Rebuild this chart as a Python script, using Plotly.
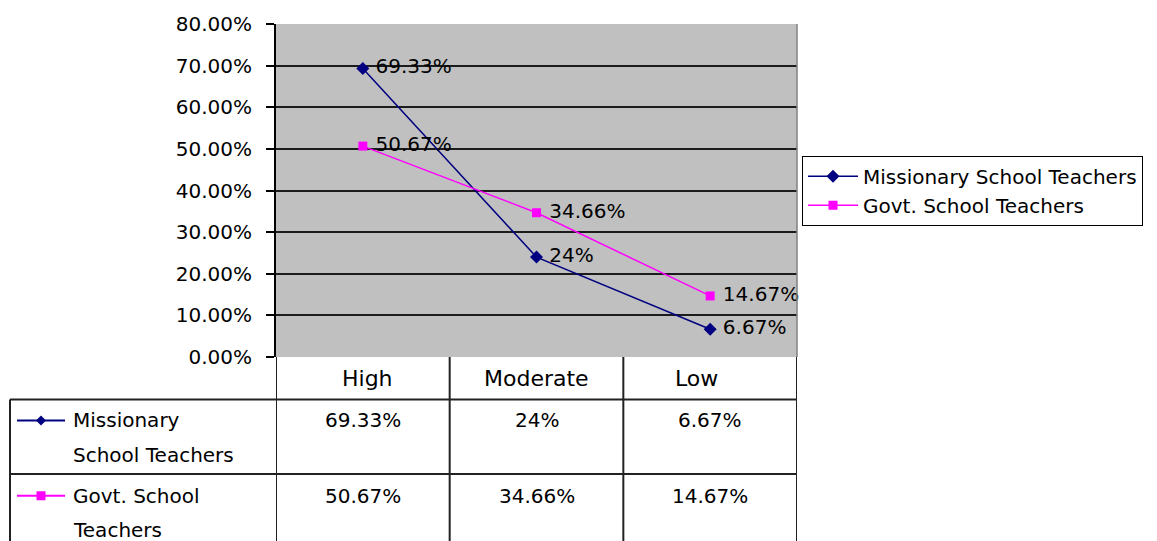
import plotly.graph_objects as go

# ---------------- data ----------------
categories = ["High", "Moderate", "Low"]
series_names = ["Missionary School Teachers", "Govt. School Teachers"]
missionary = [0.6933, 0.24, 0.0667]
govt = [0.5067, 0.3466, 0.1467]
missionary_labels = ["69.33%", "24%", "6.67%"]
govt_labels = ["50.67%", "34.66%", "14.67%"]
row_label_lines = [["Missionary", "School Teachers"], ["Govt. School", "Teachers"]]
y_ticks = [0.0, 0.1, 0.2, 0.3, 0.4, 0.5, 0.6, 0.7, 0.8]

# ---------------- styling / layout helpers ----------------
W, H = 1157, 541
L, R, T, B = 276, 797, 21, 357
FONT = "DejaVu Sans"
NAVY = "#000080"
MAG = "#FF00FF"
GRID = "#1c1c1c"


def px(x):
    return (x - L) / (R - L)


def py(y):
    return (B - y) / (B - T)


fig = go.Figure()

fig.add_trace(go.Scatter(
    x=categories, y=missionary, name=series_names[0], mode="lines+markers",
    line=dict(color=NAVY, width=1.5),
    marker=dict(symbol="diamond", size=10, color=NAVY),
))
fig.add_trace(go.Scatter(
    x=categories, y=govt, name=series_names[1], mode="lines+markers",
    line=dict(color=MAG, width=1.5),
    marker=dict(symbol="square", size=9, color=MAG),
))
for vals, labs in ((missionary, missionary_labels), (govt, govt_labels)):
    fig.add_trace(go.Scatter(
        x=categories, y=vals, mode="text", text=labs,
        texttemplate="  %{text}", textposition="middle right",
        textfont=dict(family=FONT, size=20, color="black"),
        showlegend=False, hoverinfo="skip", cliponaxis=False,
    ))

shapes = []
annotations = []

# right border of plot area
shapes.append(dict(type="line", xref="paper", yref="paper", x0=1, x1=1, y0=0, y1=1,
                   line=dict(color="#808080", width=1.5)))

# ---------------- data table ----------------
tcol = "#222222"
col_edges = [-0.5, 0.5, 1.5, 2.5]
for ce in col_edges:
    shapes.append(dict(type="line", xref="x", yref="paper", x0=ce, x1=ce,
                       y0=py(357), y1=py(545), line=dict(color=tcol, width=2)))
for yy in (400, 475):
    shapes.append(dict(type="line", xref="paper", yref="paper", x0=px(10), x1=1,
                       y0=py(yy), y1=py(yy), line=dict(color=tcol, width=2)))
shapes.append(dict(type="line", xref="paper", yref="paper", x0=px(10), x1=px(10),
                   y0=py(400), y1=py(545), line=dict(color=tcol, width=2)))

# header row
header_shift = [5, 0, -14]
for i, c in enumerate(categories):
    annotations.append(dict(x=c, y=py(379), xref="x", yref="paper", text=c,
                            showarrow=False, xshift=header_shift[i],
                            xanchor="center", yanchor="middle",
                            font=dict(family=FONT, size=22, color="black")))

row_y = [421, 497]
row_labels = [missionary_labels, govt_labels]
row_colors = [NAVY, MAG]
for r in range(2):
    for i, c in enumerate(categories):
        annotations.append(dict(x=c, y=py(row_y[r]), xref="x", yref="paper",
                                text=row_labels[r][i], showarrow=False,
                                xanchor="center", yanchor="middle",
                                font=dict(family=FONT, size=20, color="black")))
    for k, line_txt in enumerate(row_label_lines[r]):
        annotations.append(dict(x=px(71), y=py(row_y[r] + 35 * k), xref="paper", yref="paper",
                                text=line_txt, showarrow=False,
                                xanchor="left", yanchor="middle",
                                font=dict(family=FONT, size=20, color="black")))
    # legend key in table
    shapes.append(dict(type="line", xref="paper", yref="paper", x0=px(17), x1=px(65),
                       y0=py(row_y[r]), y1=py(row_y[r]),
                       line=dict(color=row_colors[r], width=2)))
    if r == 0:
        shapes.append(dict(type="path", xref="paper", yref="paper",
                           xsizemode="pixel", ysizemode="pixel",
                           xanchor=px(41), yanchor=py(row_y[r]),
                           path="M-5,0 L0,5 L5,0 L0,-5 Z",
                           fillcolor=NAVY, line=dict(color=NAVY, width=0)))
    else:
        shapes.append(dict(type="rect", xref="paper", yref="paper",
                           xsizemode="pixel", ysizemode="pixel",
                           xanchor=px(41), yanchor=py(row_y[r]),
                           x0=-4.5, x1=4.5, y0=-4.5, y1=4.5,
                           fillcolor=MAG, line=dict(color=MAG, width=0)))

fig.update_layout(
    width=W, height=H, autosize=False,
    margin=dict(l=L, r=W - R, t=T, b=H - B, pad=0),
    paper_bgcolor="white", plot_bgcolor="#C0C0C0",
    font=dict(family=FONT, size=20, color="black"),
    showlegend=True,
    legend=dict(x=px(802), y=py(154), xanchor="left", yanchor="top",
                bordercolor="black", borderwidth=1, bgcolor="white",
                font=dict(family=FONT, size=20, color="black"),
                itemwidth=50, tracegroupgap=0),
    xaxis=dict(type="category", range=[-0.5, 2.5], showticklabels=False,
               showgrid=False, zeroline=False, showline=False, ticks=""),
    yaxis=dict(range=[0, 0.8], tickvals=y_ticks, tickformat=".2%",
               showgrid=True, gridcolor=GRID, gridwidth=2,
               zeroline=False, showline=True, linecolor="black", linewidth=2,
               ticks="outside", ticklen=8, tickcolor="black", tickwidth=1.5,
               ticklabelstandoff=10,
               tickfont=dict(family=FONT, size=20, color="black")),
    shapes=shapes,
    annotations=annotations,
)

fig.write_html("out.html", config={"displayModeBar": False},
               post_script="document.body.style.margin='0';document.body.style.overflow='hidden';")
